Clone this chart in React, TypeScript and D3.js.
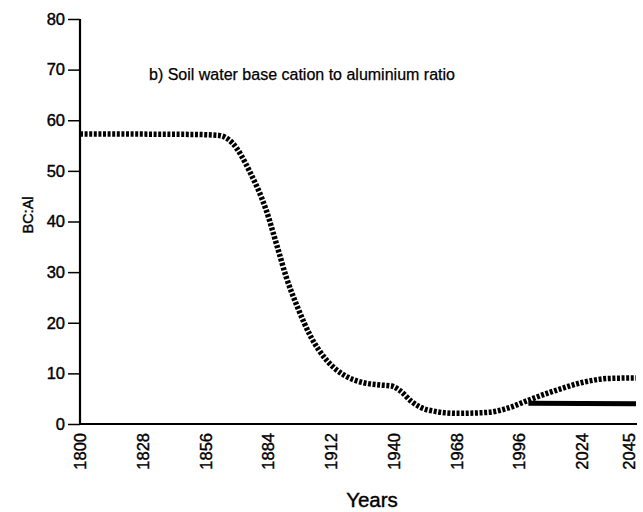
import React, { useEffect, useRef } from "react";
import * as d3 from "d3";

// modelled BC:Al ratio, historic run + future scenario
const years = [1800, 1850, 1862, 1868, 1876, 1883, 1888, 1892, 1897, 1903, 1910, 1918, 1926, 1934, 1939, 1943, 1948, 1955, 1968, 1982, 1992, 2000, 2012, 2024, 2036, 2048];
const ratio = [57.3, 57.2, 57.0, 55.5, 49.6, 42.3, 35, 29, 23.1, 17.2, 12.6, 9.6, 8.2, 7.7, 7.5, 6.5, 4.4, 2.8, 2.1, 2.3, 3.3, 4.7, 6.6, 8.2, 9.0, 9.1];
const scenarioYears = [2000, 2048];
const scenarioRatio = [4.1, 4.0];
const xTicks = [1800, 1828, 1856, 1884, 1912, 1940, 1968, 1996, 2024, 2045];
const yTicks = [0, 10, 20, 30, 40, 50, 60, 70, 80];

const W = 643;
const H = 512;
const font = "'Liberation Sans', Arial, sans-serif";

const App = () => {
  const svgRef = useRef(null);

  useEffect(() => {
    const svg = d3.select(svgRef.current);
    svg.selectAll("*").remove();

    const left = 80, right = 636, top = 19, bottom = 424;
    const x = d3.scaleLinear().domain([1800, 2048]).range([left, right]);
    const y = d3.scaleLinear().domain([0, 80]).range([bottom, top]);

    // y axis
    const gy = svg.append("g").attr("transform", `translate(${left},0)`)
      .call(d3.axisLeft(y).tickValues(yTicks).tickSize(12).tickPadding(3));
    gy.select(".domain").attr("stroke-width", 2.2).attr("d", `M0,${top}V${bottom}`);
    gy.selectAll(".tick line").attr("stroke-width", 1.5);
    gy.selectAll("text")
      .attr("font-family", font).attr("font-size", 16.5).attr("fill", "#000")
      .attr("stroke", "#000").attr("stroke-width", 0.4);

    // x axis (no tick marks, rotated labels)
    svg.append("line")
      .attr("x1", left).attr("x2", right + 1)
      .attr("y1", bottom).attr("y2", bottom)
      .attr("stroke", "#000").attr("stroke-width", 2.2);

    svg.append("g").selectAll("text")
      .data(xTicks)
      .enter()
      .append("text")
      .attr("transform", (d) => `translate(${x(d)},${433}) rotate(-90)`)
      .attr("text-anchor", "end")
      .attr("dy", "0.36em")
      .attr("font-family", font)
      .attr("font-size", 16.5)
      .attr("stroke", "#000").attr("stroke-width", 0.4)
      .text((d) => d);

    // lines
    const line = d3.line()
      .x((d) => x(d[0]))
      .y((d) => y(d[1]))
      .curve(d3.curveMonotoneX);

    svg.append("path")
      .datum(scenarioYears.map((yr, i) => [yr, scenarioRatio[i]]))
      .attr("d", line)
      .attr("fill", "none")
      .attr("stroke", "#000")
      .attr("stroke-width", 5);

    svg.append("path")
      .datum(years.map((yr, i) => [yr, ratio[i]]))
      .attr("d", line)
      .attr("fill", "none")
      .attr("stroke", "#000")
      .attr("stroke-width", 5.5)
      .attr("stroke-dasharray", "3,1.6");

    // labels
    svg.append("text")
      .attr("x", 149).attr("y", 80)
      .attr("font-family", font).attr("font-size", 16)
      .attr("stroke", "#000").attr("stroke-width", 0.25)
      .text("b) Soil water base cation to aluminium ratio");

    svg.append("text")
      .attr("transform", `translate(33,215) rotate(-90)`)
      .attr("text-anchor", "middle")
      .attr("font-family", font).attr("font-size", 14.5)
      .attr("stroke", "#000").attr("stroke-width", 0.4)
      .text("BC:Al");

    svg.append("text")
      .attr("x", 372).attr("y", 507)
      .attr("text-anchor", "middle")
      .attr("font-family", font).attr("font-size", 20.5)
      .attr("stroke", "#000").attr("stroke-width", 0.4)
      .text("Years");
  }, []);

  return (
    <svg
      ref={svgRef}
      width={W}
      height={H}
      style={{ position: "absolute", left: 0, top: 0, background: "#fff" }}
    />
  );
};

export default App;
